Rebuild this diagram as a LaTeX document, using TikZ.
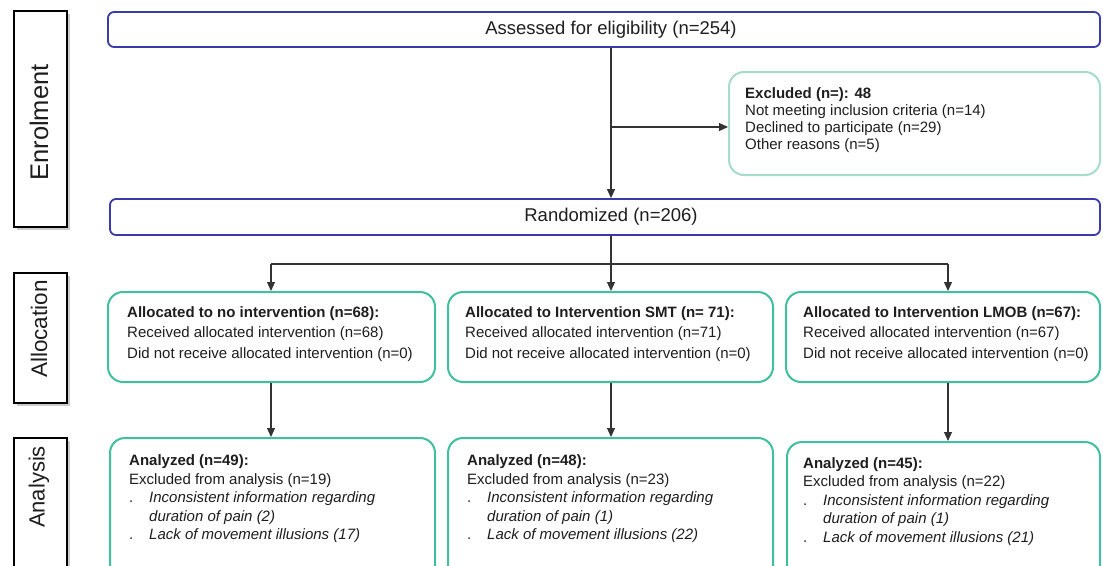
\documentclass[tikz,border=0pt]{standalone}
\usepackage{fontspec}
\setmainfont{Liberation Sans}
\usetikzlibrary{arrows.meta,shadows}
\definecolor{tealb}{RGB}{64,192,158}
\definecolor{teall}{RGB}{165,220,204}
\definecolor{blueb}{RGB}{58,58,168}
\definecolor{txt}{RGB}{30,30,30}
\begin{document}
\begin{tikzpicture}[x=1pt,y=-1pt,
  sidebox/.style={draw=black, line width=1.8pt, fill=white, drop shadow={shadow xshift=2.5pt, shadow yshift=-2.5pt, opacity=0.4, fill=gray}, minimum width=53pt, inner sep=0},
  bluebox/.style={draw=blueb, line width=1.8pt, rounded corners=6pt, fill=white, inner sep=0},
  tealbox/.style={draw=tealb, line width=2pt, rounded corners=15pt, fill=white, inner sep=0},
  exbox/.style={draw=teall, line width=2pt, rounded corners=15pt, fill=white, inner sep=0},
  sidetext/.style={rotate=90, inner sep=0, text=txt, font=\fontsize{22}{24}\selectfont},
  bigtext/.style={inner sep=0, text=txt, font=\fontsize{18.5}{22}\selectfont},
  body/.style={anchor=north west, inner sep=0, align=left, text=txt},
  arr/.style={draw=black!80, line width=1.1pt, -{Triangle[length=9pt,width=8pt]}},
  ln/.style={draw=black!80, line width=1.1pt}]
\path[use as bounding box, clip] (0,0) rectangle (1103,565);
\fill[white] (0,0) rectangle (1103,565);

% side labels
\node[sidebox, minimum height=216pt] (en) at (40.5,119) {};
\node[sidetext, font=\fontsize{25.5}{27}\selectfont] (ent) at (39,122.5) {Enrolment};
\node[sidebox, minimum height=130pt] (al) at (40.5,338) {};
\node[sidetext, font=\fontsize{22.5}{24}\selectfont] (alt) at (39,329) {Allocation};
\node[sidebox, minimum height=152pt] (an) at (40.5,514) {};
\node[sidetext] (ant) at (39,487) {Analysis};

% enrolment
\node[bluebox, minimum width=992pt, minimum height=35pt] (assess) at (604,29.5) {};
\node[bigtext] (assesst) at (611,29.5) {Assessed for eligibility (n=254)};
\node[exbox, minimum width=371pt, minimum height=103pt] (excl) at (914.5,123.5) {};
\node[body, font=\fontsize{15}{17}\selectfont] (exclt) at (745,87) {\textbf{Excluded (n=): 48}\\Not meeting inclusion criteria (n=14)\\Declined to participate (n=29)\\Other reasons (n=5)};
\node[bluebox, minimum width=990pt, minimum height=36pt] (rand) at (605,217) {};
\node[bigtext] (randt) at (611,217) {Randomized (n=206)};

\coordinate (split) at (611,264);
\coordinate (exbr) at (611,127);
\coordinate (c1) at (271,264);
\coordinate (c3) at (948,264);
\draw[arr] (assess.south -| split) -- (rand.north -| split);
\draw[arr] (exbr) -- (exbr -| excl.west);

% allocation
\node[tealbox, minimum width=327pt, minimum height=90pt] (al1) at (271.5,337) {};
\node[tealbox, minimum width=325pt, minimum height=90pt] (al2) at (610.5,337) {};
\node[tealbox, minimum width=314pt, minimum height=90pt] (al3) at (943,337) {};
\node[body, font=\fontsize{15}{20.5}\selectfont] (al1t) at (127,306) {\textbf{Allocated to no intervention (n=68):}\\Received allocated intervention (n=68)\\Did not receive allocated intervention (n=0)};
\node[body, font=\fontsize{15}{20.5}\selectfont] (al2t) at (465,306) {\textbf{Allocated to Intervention SMT (n= 71):}\\Received allocated intervention (n=71)\\Did not receive allocated intervention (n=0)};
\node[body, font=\fontsize{15}{20.5}\selectfont] (al3t) at (803,306) {\textbf{Allocated to Intervention LMOB (n=67):}\\Received allocated intervention (n=67)\\Did not receive allocated intervention (n=0)};

\draw[ln] (rand.south -| split) -- (split);
\draw[ln] (c1) -- (c3);
\draw[arr] (c1) -- (al1.north -| c1);
\draw[arr] (split) -- (al2.north -| split);
\draw[arr] (c3) -- (al3.north -| c3);

% analysis
\node[tealbox, minimum width=325pt, minimum height=162pt] (an1) at (272.5,519) {};
\node[tealbox, minimum width=325pt, minimum height=162pt] (an2) at (610.5,519) {};
\node[tealbox, minimum width=313pt, minimum height=158pt] (an3) at (943.5,521) {};
\node[body, font=\fontsize{15}{18.5}\selectfont] (an1t) at (129,454.5) {\textbf{Analyzed (n=49):}\\Excluded from analysis (n=19)\\\makebox[20pt][l]{.}\textit{Inconsistent information regarding}\\\hspace*{20pt}\textit{duration of pain (2)}\\\makebox[20pt][l]{.}\textit{Lack of movement illusions (17)}};
\node[body, font=\fontsize{15}{18.5}\selectfont] (an2t) at (467,454.5) {\textbf{Analyzed (n=48):}\\Excluded from analysis (n=23)\\\makebox[20pt][l]{.}\textit{Inconsistent information regarding}\\\hspace*{20pt}\textit{duration of pain (1)}\\\makebox[20pt][l]{.}\textit{Lack of movement illusions (22)}};
\node[body, font=\fontsize{15}{18.5}\selectfont] (an3t) at (803,457) {\textbf{Analyzed (n=45):}\\Excluded from analysis (n=22)\\\makebox[20pt][l]{.}\textit{Inconsistent information regarding}\\\hspace*{20pt}\textit{duration of pain (1)}\\\makebox[20pt][l]{.}\textit{Lack of movement illusions (21)}};

\draw[arr] (al1.south -| c1) -- (an1.north -| c1);
\draw[arr] (al2.south -| split) -- (an2.north -| split);
\draw[arr] (al3.south -| c3) -- (an3.north -| c3);
\end{tikzpicture}
\end{document}
